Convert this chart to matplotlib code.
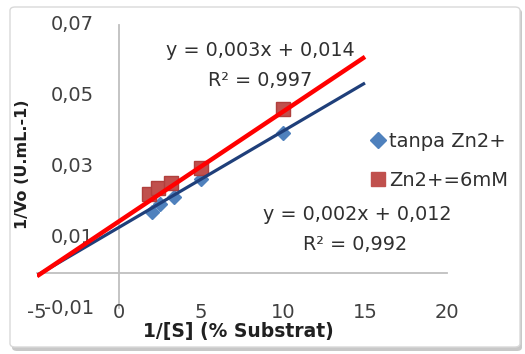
import numpy as np
import matplotlib
matplotlib.use("Agg")
import matplotlib.pyplot as plt
from matplotlib.transforms import blended_transform_factory
from matplotlib.patches import FancyBboxPatch
from matplotlib.lines import Line2D

# ---- data ----
x_blue = [2.0, 2.5, 3.33, 5.0, 10.0]
y_blue = [0.0172, 0.0195, 0.0215, 0.0265, 0.0394]
x_red = [1.8, 2.4, 3.2, 5.0, 10.0]
y_red = [0.0222, 0.0240, 0.0254, 0.0295, 0.0463]
trend_blue = [0.00272, 0.0128]   # slope, intercept (as drawn)
trend_red = [0.0031, 0.0145]
trend_x = [-5, 15]
x_ticks = [-5, 0, 5, 10, 15, 20]
y_ticks = [-0.01, 0.01, 0.03, 0.05, 0.07]
label_blue = "tanpa Zn2+"
label_red = "Zn2+=6mM"
eq_red = ["y = 0,003x + 0,014", "R² = 0,997"]
eq_blue = ["y = 0,002x + 0,012", "R² = 0,992"]

plt.rcParams['font.family'] = ['DejaVu Sans']
W, H = 525, 354
fig = plt.figure(figsize=(W / 100, H / 100), dpi=100)
fig.patch.set_facecolor('white')

# chart frame with shadow
shadow = FancyBboxPatch((12 / W, 1 - 351 / H), 510 / W, 342 / H,
                        boxstyle="round,pad=0,rounding_size=0.01",
                        transform=fig.transFigure, facecolor='#c8c8c8',
                        edgecolor='none', zorder=-2)
frame = FancyBboxPatch((10 / W, 1 - 347 / H), 510 / W, 340 / H,
                       boxstyle="round,pad=0,rounding_size=0.01",
                       transform=fig.transFigure, facecolor='white',
                       edgecolor='#d9d9d9', linewidth=1, zorder=-1)
fig.patches.extend([shadow, frame])

ax = fig.add_axes([37 / W, 1 - 308 / H, 410 / W, 283 / H])
ax.set_zorder(1)
ax.set_facecolor('none')
ax.set_xlim(-5, 20)
ax.set_ylim(-0.01, 0.07)
for s in ['top', 'right']:
    ax.spines[s].set_visible(False)
ax.spines['left'].set_position(('data', 0))
ax.spines['bottom'].set_position(('data', 0))
for s in ['left', 'bottom']:
    ax.spines[s].set_color('#bfbfbf')
    ax.spines[s].set_linewidth(1.3)
ax.set_xticks([])
ax.set_yticks([])

# markers
ax.plot(x_blue, y_blue, linestyle='none', marker='D', markersize=7.5,
        color='#4F81BD', markeredgecolor='#4F81BD', zorder=3)
ax.plot(x_red, y_red, linestyle='none', marker='s', markersize=9.5,
        color='#C0504D', markeredgecolor='#B0403D', zorder=3)

# trend lines
tx = np.array(trend_x, dtype=float)
ax.plot(tx, trend_blue[0] * tx + trend_blue[1], color='#1F3F7A', lw=2.3,
        solid_capstyle='butt', zorder=4)
ax.plot(tx, trend_red[0] * tx + trend_red[1], color='#FF0000', lw=3.2,
        solid_capstyle='butt', zorder=5)

# tick labels
tf_y = blended_transform_factory(fig.transFigure, ax.transData)
for v in y_ticks:
    ax.text(94 / W, v, f"{v:.2f}".replace('.', ','), transform=tf_y,
            ha='right', va='center', fontsize=14, color='#404040')
tf_x = blended_transform_factory(ax.transData, fig.transFigure)
for v in x_ticks:
    ax.text(v, 1 - 312 / H, f"{v}", transform=tf_x, ha='center',
            va='center', fontsize=14, color='#404040')

# axis titles
fig.text(238 / W, 1 - 332 / H, "1/[S] (% Substrat)", ha='center',
         va='center', fontsize=13.5, fontweight='bold', color='#202020')
fig.text(23 / W, 1 - 164 / H, "1/Vo (U.mL.-1)", ha='center', va='center',
         rotation=90, fontsize=11.5, fontweight='bold', color='#202020')

# equations
fig.text(260 / W, 1 - 51 / H, eq_red[0], ha='center', va='center',
         fontsize=13.8, color='#303030')
fig.text(260 / W, 1 - 80 / H, eq_red[1], ha='center', va='center',
         fontsize=13.8, color='#303030')
fig.text(357 / W, 1 - 215 / H, eq_blue[0], ha='center', va='center',
         fontsize=13.8, color='#303030')
fig.text(355 / W, 1 - 245 / H, eq_blue[1], ha='center', va='center',
         fontsize=13.8, color='#303030')

# legend
handles = [Line2D([], [], linestyle='none', marker='D', markersize=8,
                  color='#4F81BD'),
           Line2D([], [], linestyle='none', marker='s', markersize=10,
                  color='#C0504D')]
leg = fig.legend(handles, [label_blue, label_red], loc='center left',
                 bbox_to_anchor=(362 / W, 1 - 161 / H), frameon=False,
                 fontsize=14, handlelength=0.6, handletextpad=0.3,
                 labelspacing=1.0, borderpad=0)
for t in leg.get_texts():
    t.set_color('#303030')

fig.savefig("out.png", dpi=100, facecolor='white')
